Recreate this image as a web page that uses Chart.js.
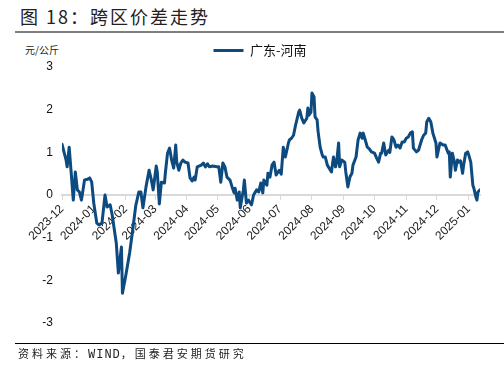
<!DOCTYPE html>
<html>
<head>
<meta charset="utf-8">
<script src="https://cdn.jsdelivr.net/npm/chart.js@4.4.1/dist/chart.umd.min.js"></script>
<style>
  body { margin: 0; background: #fff; }
  #wrap { position: relative; width: 504px; height: 385px; overflow: hidden; }
  #c { position: absolute; left: 0; top: 0; }
  #title { position: absolute; left: 20px; top: 7px; font: 18px/18px "Noto Sans CJK SC", sans-serif; letter-spacing: 2px; color: #222; white-space: nowrap; }
  #rule1 { position: absolute; left: 15px; top: 31px; width: 489px; height: 2px; background: #7f7f7f; }
  #unit { position: absolute; left: 25px; top: 45px; font: 10px/10px "Noto Sans CJK SC", sans-serif; color: #222; }
  #rule2 { position: absolute; left: 15px; top: 343px; width: 489px; height: 1px; background: #000; }
  #src { position: absolute; left: 18px; top: 347px; font: 11px/12px "Noto Sans CJK SC", sans-serif; letter-spacing: 3px; color: #222; white-space: nowrap; }
  #src span { font: 12px/12px "Liberation Mono", "DejaVu Sans Mono", monospace; letter-spacing: 1px; }
</style>
</head>
<body>
<div id="wrap">
  <div id="title">图 18：跨区价差走势</div>
  <div id="rule1"></div>
  <div id="unit">元/公斤</div>
  <canvas id="c" width="504" height="385"></canvas>
  <div id="rule2"></div>
  <div id="src">资料来源：<span>WIND</span>，国泰君安期货研究</div>
</div>
<script>
// 广东-河南 spread, 元/公斤
const dates = [
  '2023-12-01','2023-12-05','2023-12-06','2023-12-08','2023-12-10','2023-12-12','2023-12-14','2023-12-16',
  '2023-12-18','2023-12-20','2023-12-23','2023-12-26','2023-12-28','2023-12-30','2024-01-01','2024-01-04',
  '2024-01-06','2024-01-09','2024-01-12','2024-01-14','2024-01-17','2024-01-19','2024-01-23','2024-01-25',
  '2024-01-28','2024-01-29','2024-02-01','2024-02-05','2024-02-08','2024-02-11','2024-02-14','2024-02-16',
  '2024-02-18','2024-02-21','2024-02-24','2024-02-26','2024-02-28','2024-03-02','2024-03-03','2024-03-05',
  '2024-03-07','2024-03-10','2024-03-11','2024-03-13','2024-03-15','2024-03-17','2024-03-19','2024-03-21',
  '2024-03-22','2024-03-24','2024-03-26','2024-03-28','2024-03-30','2024-04-02','2024-04-04','2024-04-06',
  '2024-04-08','2024-04-09','2024-04-11','2024-04-15','2024-04-17','2024-04-19','2024-04-21','2024-04-23',
  '2024-04-26','2024-04-30','2024-05-02','2024-05-04','2024-05-06','2024-05-08','2024-05-10','2024-05-13',
  '2024-05-15','2024-05-17','2024-05-18','2024-05-20','2024-05-22','2024-05-23','2024-05-26','2024-05-27',
  '2024-05-29','2024-05-31','2024-06-03','2024-06-05','2024-06-08','2024-06-10','2024-06-12','2024-06-14',
  '2024-06-15','2024-06-18','2024-06-19','2024-06-21','2024-06-23','2024-06-25','2024-06-27','2024-06-30',
  '2024-07-02','2024-07-04','2024-07-06','2024-07-07','2024-07-09','2024-07-10','2024-07-12','2024-07-14',
  '2024-07-16','2024-07-19','2024-07-20','2024-07-22','2024-07-24','2024-07-27','2024-07-28','2024-07-29',
  '2024-07-31','2024-08-01','2024-08-03','2024-08-04','2024-08-06','2024-08-07','2024-08-09','2024-08-11',
  '2024-08-12','2024-08-14','2024-08-16','2024-08-19','2024-08-20','2024-08-22','2024-08-24','2024-08-25',
  '2024-08-27','2024-08-28','2024-08-30','2024-09-02','2024-09-03','2024-09-05','2024-09-07','2024-09-09',
  '2024-09-10','2024-09-13','2024-09-15','2024-09-17','2024-09-19','2024-09-20','2024-09-22','2024-09-24',
  '2024-09-26','2024-09-28','2024-10-01','2024-10-03','2024-10-05','2024-10-07','2024-10-08','2024-10-10',
  '2024-10-12','2024-10-13','2024-10-15','2024-10-16','2024-10-18','2024-10-20','2024-10-22','2024-10-24',
  '2024-10-26','2024-10-28','2024-10-30','2024-11-01','2024-11-03','2024-11-05','2024-11-07','2024-11-08',
  '2024-11-11','2024-11-13','2024-11-16','2024-11-18','2024-11-20','2024-11-21','2024-11-23','2024-11-25',
  '2024-11-27','2024-11-30','2024-12-01','2024-12-03','2024-12-04','2024-12-07','2024-12-09','2024-12-12',
  '2024-12-13','2024-12-14','2024-12-16','2024-12-18','2024-12-19','2024-12-21','2024-12-22','2024-12-24',
  '2024-12-26','2024-12-27','2024-12-29','2024-12-31','2025-01-01','2025-01-03','2025-01-05','2025-01-06',
  '2025-01-08','2025-01-09','2025-01-10','2025-01-12'
];
const spread = [
  1.19, 0.82, 0.66, 1.12, 0.51, -0.12, 0.54, 0.12,
  0.07, -0.12, 0.35, 0.37, 0.40, 0.30, -0.19, -0.66,
  -0.70, -0.66, 0.00, -0.28, -0.23, -0.47, -1.13, -1.83,
  -1.22, -2.30, -1.92, -1.36, -0.82, -0.25, 0.07, 0.07,
  -0.30, 0.19, 0.58, 0.38, 0.12, 0.68, 0.54, -0.21,
  0.30, 0.28, 0.54, 0.98, 1.10, 0.82, 0.63, 1.17,
  0.77, 0.58, 0.75, 0.82, 0.77, 0.75, 0.40, 0.33,
  0.42, 0.35, 0.66, 0.70, 0.75, 0.66, 0.73, 0.66,
  0.68, 0.66, 0.66, 0.30, 0.75, 0.66, 0.42, 0.35,
  0.19, 0.05, 0.16, -0.12, 0.07, -0.30, 0.12, 0.35,
  -0.19, -0.12, -0.23, 0.00, 0.12, 0.07, 0.28, 0.05,
  0.35, 0.23, 0.51, 0.42, 0.70, 0.77, 0.47, 0.58,
  0.49, 1.12, 0.89, 1.00, 1.22, 1.29, 1.33, 1.40,
  1.64, 1.94, 1.99, 1.80, 1.69, 1.80, 2.04, 1.87,
  1.94, 2.39, 2.30, 1.83, 1.76, 1.48, 1.12, 0.94,
  0.89, 0.89, 0.70, 0.58, 0.54, 0.89, 0.66, 0.75,
  1.22, 0.66, 0.82, 0.77, 0.54, 0.19, 0.42, 0.51,
  0.70, 0.89, 1.29, 1.45, 1.33, 1.45, 1.29, 1.12,
  1.08, 1.01, 0.98, 0.87, 0.77, 0.98, 0.98, 1.22,
  0.94, 0.98, 1.05, 1.00, 1.36, 1.29, 1.12, 1.17,
  1.10, 1.24, 1.24, 1.33, 1.36, 1.45, 1.48, 1.10,
  1.01, 1.05, 1.29, 1.40, 1.45, 1.71, 1.80, 1.71,
  1.45, 1.22, 0.89, 1.12, 1.22, 1.17, 1.17, 0.98,
  1.01, 0.42, 0.98, 0.77, 0.58, 0.82, 0.77, 0.80,
  0.51, 0.70, 0.98, 1.01, 0.94, 0.77, 0.23, 0.16,
  -0.05, -0.12, 0.07, 0.12
];
const monthLabels = ['2023-12','2024-01','2024-02','2024-03','2024-04','2024-05','2024-06',
  '2024-07','2024-08','2024-09','2024-10','2024-11','2024-12','2025-01'];
const seriesName = '广东-河南';
const lineColor = '#0d4a80';

const DAY = 86400000;
const t0 = Date.parse(dates[0]);
function dayOf(s) { return Math.round((Date.parse(s) - t0) / DAY); }

const points = dates.map(function (d, i) { return { x: dayOf(d), y: spread[i] }; });
const monthDays = monthLabels.map(function (m) { return dayOf(m + '-01'); });

const tickFont = { family: "'Liberation Sans', Arial, sans-serif", size: 12 };

new Chart(document.getElementById('c'), {
  type: 'line',
  data: {
    datasets: [{
      label: seriesName,
      data: points,
      borderColor: lineColor,
      backgroundColor: lineColor,
      borderWidth: 3,
      borderJoinStyle: 'round',
      borderCapStyle: 'round',
      pointRadius: 0,
      pointStyle: 'line',
      tension: 0,
      fill: false
    }]
  },
  options: {
    responsive: false,
    animation: false,
    layout: { padding: { left: 40, right: 24, top: 44, bottom: 62 } },
    plugins: {
      legend: {
        labels: {
          usePointStyle: true,
          pointStyleWidth: 30,
          padding: 0,
          color: '#111',
          font: { family: "'Noto Sans CJK SC', sans-serif", size: 13 }
        }
      },
      tooltip: { enabled: false }
    },
    scales: {
      x: {
        type: 'linear',
        position: { y: 0 },
        min: 0,
        max: dayOf(dates[dates.length - 1]),
        afterBuildTicks: function (s) { s.ticks = monthDays.map(function (v) { return { value: v }; }); },
        afterFit: function (s) { s.height = 0; },
        ticks: {
          autoSkip: false,
          minRotation: 45,
          maxRotation: 45,
          padding: 3,
          color: '#222',
          font: tickFont,
          callback: function (v) { return monthLabels[monthDays.indexOf(v)]; }
        },
        grid: { drawOnChartArea: false, tickLength: 4, color: '#d9d9d9' },
        border: { color: '#d9d9d9', width: 2 }
      },
      y: {
        min: -3,
        max: 3,
        afterFit: function (s) { s.width = 22; },
        ticks: { stepSize: 1, padding: 9, color: '#111', font: tickFont },
        grid: { display: false, drawTicks: false },
        border: { display: false }
      }
    }
  }
});
</script>
</body>
</html>
